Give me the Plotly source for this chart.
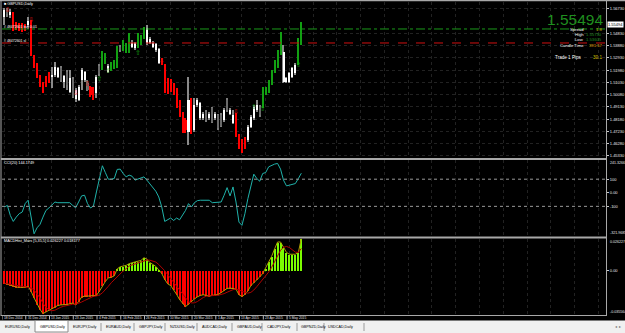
import plotly.graph_objects as go

# ---------------- DATA ----------------
date_labels = ["18 Dec 2014", "31 Dec 2014", "13 Jan 2015", "23 Jan 2015", "4 Feb 2015",
               "16 Feb 2015", "26 Feb 2015", "10 Mar 2015", "20 Mar 2015", "1 Apr 2015",
               "13 Apr 2015", "23 Apr 2015", "5 May 2015"]
date_label_bars = [0, 8, 16, 24, 32, 40, 48, 56, 64, 72, 80, 88, 96]

open_ = [1.5614, 1.5660, 1.5626, 1.5639, 1.5523, 1.5557, 1.5515, 1.5549, 1.5546, 1.5575,
         1.5303, 1.5230, 1.5142, 1.5075, 1.5075, 1.5142, 1.5147, 1.5160, 1.5147, 1.5212,
         1.5108, 1.5186, 1.5031, 1.5127, 1.4971, 1.4966, 1.5121, 1.5121, 1.5096, 1.5064,
         1.5049, 1.5018, 1.5230, 1.5212, 1.5264, 1.5186, 1.5199, 1.5212, 1.5225, 1.5380,
         1.5355, 1.5342, 1.5393, 1.5380, 1.5367, 1.5380, 1.5406, 1.5445, 1.5523, 1.5437,
         1.5412, 1.5401, 1.5360, 1.5277, 1.5238, 1.5031, 1.5116, 1.5083, 1.5018, 1.4914,
         1.4862, 1.4811, 1.4720, 1.4966, 1.4733, 1.4927, 1.4824, 1.4824, 1.4875, 1.4824,
         1.4901, 1.4824, 1.4849, 1.4849, 1.4811, 1.4966, 1.4862, 1.4790, 1.4849, 1.4694,
         1.4655, 1.4603, 1.4655, 1.4759, 1.4824, 1.4888, 1.4914, 1.4914, 1.5018, 1.5031,
         1.5096, 1.5186, 1.5225, 1.5329, 1.5342, 1.5108, 1.5108, 1.5147, 1.5173, 1.5251,
         1.5432]
high = [1.5678, 1.5678, 1.5671, 1.5652, 1.5575, 1.5562, 1.5562, 1.5557, 1.5614, 1.5588,
        1.5316, 1.5251, 1.5160, 1.5108, 1.5153, 1.5186, 1.5225, 1.5264, 1.5225, 1.5230,
        1.5160, 1.5199, 1.5199, 1.5142, 1.5057, 1.5083, 1.5212, 1.5194, 1.5121, 1.5075,
        1.5064, 1.5160, 1.5246, 1.5349, 1.5329, 1.5246, 1.5264, 1.5277, 1.5386, 1.5393,
        1.5432, 1.5406, 1.5484, 1.5432, 1.5419, 1.5484, 1.5471, 1.5536, 1.5549, 1.5453,
        1.5427, 1.5412, 1.5367, 1.5290, 1.5246, 1.5134, 1.5127, 1.5096, 1.5057, 1.4966,
        1.4875, 1.4824, 1.5147, 1.4979, 1.4979, 1.4979, 1.4953, 1.4875, 1.4888, 1.4875,
        1.4914, 1.4875, 1.4862, 1.4868, 1.4901, 1.4979, 1.4901, 1.4888, 1.4868, 1.4707,
        1.4668, 1.4681, 1.4772, 1.4849, 1.4927, 1.4966, 1.4927, 1.5070, 1.5070, 1.5121,
        1.5199, 1.5277, 1.5355, 1.5497, 1.5393, 1.5147, 1.5186, 1.5225, 1.5251, 1.5445,
        1.5573]
low = [1.5549, 1.5614, 1.5601, 1.5505, 1.5510, 1.5505, 1.5497, 1.5502, 1.5536, 1.5308,
       1.5212, 1.5134, 1.5064, 1.5018, 1.5064, 1.5096, 1.5057, 1.5147, 1.5134, 1.5108,
       1.5057, 1.5044, 1.5023, 1.4979, 1.4953, 1.4958, 1.5044, 1.5108, 1.5039, 1.4992,
       1.4966, 1.4979, 1.5153, 1.5199, 1.5246, 1.5178, 1.5189, 1.5204, 1.5217, 1.5342,
       1.5347, 1.5334, 1.5329, 1.5373, 1.5355, 1.5367, 1.5393, 1.5437, 1.5393, 1.5401,
       1.5367, 1.5342, 1.5246, 1.5235, 1.5018, 1.5013, 1.5031, 1.5005, 1.4901, 1.4837,
       1.4712, 1.4712, 1.4616, 1.4707, 1.4720, 1.4914, 1.4811, 1.4811, 1.4798, 1.4811,
       1.4785, 1.4811, 1.4733, 1.4754, 1.4798, 1.4875, 1.4849, 1.4780, 1.4681, 1.4583,
       1.4552, 1.4590, 1.4642, 1.4746, 1.4811, 1.4875, 1.4837, 1.4901, 1.5005, 1.5018,
       1.5083, 1.5173, 1.5212, 1.5316, 1.5096, 1.5096, 1.5096, 1.5134, 1.5160, 1.5238,
       1.5393]
close = [1.5665, 1.5634, 1.5652, 1.5515, 1.5557, 1.5515, 1.5549, 1.5510, 1.5582, 1.5316,
         1.5230, 1.5147, 1.5075, 1.5031, 1.5142, 1.5173, 1.5160, 1.5225, 1.5212, 1.5121,
         1.5153, 1.5083, 1.5134, 1.4992, 1.5044, 1.5064, 1.5199, 1.5186, 1.5044, 1.5005,
         1.4979, 1.5147, 1.5168, 1.5329, 1.5316, 1.5230, 1.5251, 1.5264, 1.5375, 1.5355,
         1.5419, 1.5393, 1.5437, 1.5412, 1.5406, 1.5471, 1.5453, 1.5523, 1.5406, 1.5412,
         1.5380, 1.5355, 1.5251, 1.5246, 1.5031, 1.5121, 1.5044, 1.5018, 1.4909, 1.4849,
         1.4720, 1.4738, 1.4966, 1.4733, 1.4927, 1.4966, 1.4940, 1.4862, 1.4811, 1.4862,
         1.4798, 1.4862, 1.4746, 1.4764, 1.4888, 1.4888, 1.4888, 1.4849, 1.4694, 1.4603,
         1.4590, 1.4668, 1.4759, 1.4837, 1.4914, 1.4927, 1.4849, 1.5031, 1.5057, 1.5108,
         1.5186, 1.5264, 1.5329, 1.5432, 1.5108, 1.5134, 1.5173, 1.5212, 1.5238, 1.5432,
         1.55494]
# candle state: r = down trend, g = up trend, w = neutral (light), k = neutral (dark)
candle_state = ["w", "k", "w", "r", "r", "r", "r", "r", "w", "r",
                "r", "r", "r", "r", "r", "r", "w", "w", "w", "k",
                "w", "k", "w", "k", "w", "w", "w", "w", "k", "r",
                "r", "w", "k", "g", "g", "w", "g", "g", "g", "k",
                "g", "g", "g", "w", "w", "g", "g", "g", "w", "w",
                "w", "w", "w", "r", "r", "r", "r", "r", "r", "r",
                "r", "r", "w", "r", "w", "w", "w", "w", "k", "w",
                "k", "w", "k", "k", "w", "k", "w", "w", "r", "r",
                "r", "r", "w", "w", "w", "w", "k", "g", "g", "g",
                "g", "g", "g", "g", "w", "w", "w", "w", "w", "g",
                "g"]

sell_arrow_bars = [1, 9, 24, 28, 53, 78]
sell_arrow_prices = [1.5660, 1.5582, 1.5020, 1.5088, 1.5264, 1.4870]
buy_arrow_bars = [32, 35, 45, 84, 87, 99]
buy_arrow_prices = [1.5129, 1.5191, 1.5326, 1.4909, 1.4899, 1.5233]

order_open_price = 1.55178
order_sl_price = 1.54092
last_price = 1.55494

# (the 1.55780 level is covered by the current-price marker, so it is not labelled)
price_ticks = [1.5673, 1.5483, 1.5388, 1.5293, 1.5198, 1.5103, 1.5008,
               1.4913, 1.4818, 1.4723, 1.4628, 1.4533]
price_tick_labels = ["1.56730", "1.54830", "1.53880", "1.52930", "1.51980",
                     "1.51030", "1.50080", "1.49130", "1.48180", "1.47230", "1.46280", "1.45330"]

cci = [-105, -93, -167, -211, -179, -154, -142, -80, -55, -191,
       -302, -258, -233, -179, -130, -112, -88, -68, -73, -73,
       -70, -68, -73, -93, -110, -68, -23, -18, -80, -112,
       -97, 6, 105, 199, 149, 100, 100, 105, 172, 174,
       142, 117, 130, 122, 93, 100, 105, 117, 93, 68,
       43, 11, -31, -105, -211, -196, -186, -204, -186, -199,
       -162, -130, -80, -105, -73, -58, -55, -55, -55, -55,
       -73, -73, -73, -68, -18, 38, -23, 43, -68, -216,
       -240, -154, -43, 56, 137, 105, 85, 142, 149, 191,
       204, 211, 216, 174, 93, 51, 56, 65, 68, 105,
       144.1749]
cci_max = 241.3266
cci_min = -321.9685
cci_mid_ticks = [100, 0, -100]
cci_mid_labels = ["100", "0.00", "-100"]

macd_hist = [-0.0099, -0.0107, -0.0118, -0.0124, -0.0130, -0.0132, -0.0132, -0.0132, -0.0124, -0.0164,
             -0.0217, -0.0268, -0.0310, -0.0344, -0.0330, -0.0316, -0.0305, -0.0291, -0.0279, -0.0274,
             -0.0274, -0.0271, -0.0265, -0.0259, -0.0274, -0.0248, -0.0211, -0.0203, -0.0203, -0.0203,
             -0.0203, -0.0197, -0.0164, -0.0118, -0.0085, -0.0056, -0.0051, -0.0039, 0.0017, 0.0034,
             0.0039, 0.0045, 0.0059, 0.0068, 0.0073, 0.0079, 0.0085, 0.0107, 0.0096, 0.0068,
             0.0051, 0.0037, 0.0008, -0.0020, -0.0068, -0.0104, -0.0118, -0.0152, -0.0189, -0.0231,
             -0.0259, -0.0288, -0.0268, -0.0245, -0.0226, -0.0209, -0.0197, -0.0192, -0.0197, -0.0203,
             -0.0197, -0.0195, -0.0189, -0.0175, -0.0161, -0.0141, -0.0138, -0.0141, -0.0147, -0.0192,
             -0.0206, -0.0189, -0.0161, -0.0118, -0.0096, -0.0071, -0.0048, -0.0020, 0.0023, 0.0073,
             0.0118, 0.0178, 0.0234, 0.0234, 0.0192, 0.0150, 0.0135, 0.0135, 0.0135, 0.0150,
             0.026227]
macd_signal = [-0.0099, -0.0103, -0.0108, -0.0112, -0.0116, -0.0122, -0.0127, -0.0130, -0.0130, -0.0137,
               -0.0154, -0.0181, -0.0217, -0.0261, -0.0294, -0.0314, -0.0321, -0.0317, -0.0304, -0.0293,
               -0.0285, -0.0278, -0.0273, -0.0269, -0.0269, -0.0263, -0.0251, -0.0239, -0.0228, -0.0214,
               -0.0205, -0.0202, -0.0194, -0.0177, -0.0153, -0.0124, -0.0095, -0.0070, -0.0043, -0.0019,
               0.0000, 0.0019, 0.0039, 0.0049, 0.0057, 0.0065, 0.0073, 0.0082, 0.0088, 0.0087,
               0.0081, 0.0072, 0.0052, 0.0029, 0.0002, -0.0029, -0.0060, -0.0092, -0.0126, -0.0159,
               -0.0190, -0.0224, -0.0247, -0.0258, -0.0257, -0.0247, -0.0229, -0.0214, -0.0204, -0.0200,
               -0.0197, -0.0197, -0.0196, -0.0192, -0.0183, -0.0172, -0.0161, -0.0151, -0.0146, -0.0152,
               -0.0165, -0.0175, -0.0179, -0.0173, -0.0154, -0.0127, -0.0099, -0.0071, -0.0042, -0.0009,
               0.0029, 0.0074, 0.0125, 0.0167, 0.0191, 0.0198, 0.0189, 0.0169, 0.0152, 0.0150,
               0.018177]
macd_max = 0.026227
macd_min = -0.035564
macd_mid_ticks = [0.0]
macd_mid_labels = ["0.00"]

tabs = ["EURUSD,Daily", "GBPUSD,Daily", "EURJPY,Daily", "EURAUD,Daily", "GBPJPY,Daily",
        "NZDUSD,Daily", "AUDCAD,Daily", "GBPAUD,Daily", "CADJPY,Daily", "GBPNZD,Daily", "USDCAD,Daily"]

# ---------------- STYLE / LAYOUT ----------------
W, H = 625, 333
FONT = "Liberation Sans"
SMALL = 3.8
N = len(close)
bars = list(range(N))


def px(x):
    return x / W


def py(y):
    return 1 - y / H


X0, X1 = px(2), px(606)
main_dom = [py(158), py(2)]
cci_dom = [py(236.5), py(160)]
macd_dom = [py(315), py(238.5)]
xrange_ = [-0.8, 202.6]

state_color = {"r": "#ff0000", "g": "#12a012", "w": "#ffffff", "k": "#6a6a6a"}
wick_color = {"r": "#ff0000", "g": "#12a012", "w": "#8a8a8a", "k": "#7a7a7a"}

fig = go.Figure()

# wicks
fig.add_trace(go.Bar(
    x=bars, y=[h - l for h, l in zip(high, low)], base=low, width=0.36,
    marker=dict(color=[wick_color[s] for s in candle_state], line=dict(width=0)),
    xaxis="x", yaxis="y", hoverinfo="skip", showlegend=False))
# bodies
fig.add_trace(go.Bar(
    x=bars, y=[max(abs(c - o), 0.0005) for o, c in zip(open_, close)],
    base=[min(o, c) for o, c in zip(open_, close)], width=0.68,
    marker=dict(color=[state_color[s] for s in candle_state], line=dict(width=0)),
    xaxis="x", yaxis="y", hoverinfo="skip", showlegend=False))

# signal arrows
fig.add_trace(go.Scatter(
    x=sell_arrow_bars, y=sell_arrow_prices, mode="text", text=["\u21e9"] * len(sell_arrow_bars),
    textfont=dict(family="DejaVu Sans", size=7, color="#e01010"),
    xaxis="x", yaxis="y", hoverinfo="skip", showlegend=False))
fig.add_trace(go.Scatter(
    x=buy_arrow_bars, y=buy_arrow_prices, mode="text", text=["\u21e7"] * len(buy_arrow_bars),
    textfont=dict(family="DejaVu Sans", size=7, color="#12a012"),
    xaxis="x", yaxis="y", hoverinfo="skip", showlegend=False))

# CCI
fig.add_trace(go.Scatter(
    x=bars, y=cci, mode="lines", line=dict(color="#20b2aa", width=1),
    xaxis="x2", yaxis="y2", hoverinfo="skip", showlegend=False))

# MACD histogram + lines
fig.add_trace(go.Bar(
    x=bars, y=macd_hist, width=0.36,
    marker=dict(color=["#7cfc00" if v > 0 else "#ff0000" for v in macd_hist], line=dict(width=0)),
    xaxis="x3", yaxis="y3", hoverinfo="skip", showlegend=False))
fig.add_trace(go.Scatter(
    x=bars, y=macd_hist, mode="lines", line=dict(color="#b0a000", width=1),
    xaxis="x3", yaxis="y3", hoverinfo="skip", showlegend=False))
fig.add_trace(go.Scatter(
    x=bars, y=macd_signal, mode="lines", line=dict(color="#b00000", width=1),
    xaxis="x3", yaxis="y3", hoverinfo="skip", showlegend=False))

grid_bars = list(range(0, 203, 8))
xcommon = dict(range=xrange_, showticklabels=False, ticks="", showgrid=True,
               gridcolor="#222222", griddash="dot", gridwidth=1, zeroline=False,
               tickvals=grid_bars, fixedrange=True, showline=False)
ycommon = dict(side="right", zeroline=False, ticks="outside", ticklen=2,
               tickcolor="#c8c8c8", tickfont=dict(family=FONT, size=4, color="#e8e8e8"),
               showline=False, fixedrange=True)

fig.update_layout(
    width=W, height=H, margin=dict(l=0, r=0, t=0, b=0),
    paper_bgcolor="#000000", plot_bgcolor="#000000",
    barmode="overlay", bargap=0, showlegend=False,
    font=dict(family=FONT, color="#ffffff"),
    xaxis=dict(domain=[X0, X1], anchor="y", **xcommon),
    xaxis2=dict(domain=[X0, X1], anchor="y2", matches="x", **xcommon),
    xaxis3=dict(domain=[X0, X1], anchor="y3", matches="x", **xcommon),
    yaxis=dict(domain=main_dom, anchor="x", range=[1.4517, 1.5727],
               tickvals=price_ticks, ticktext=price_tick_labels,
               showgrid=True, gridcolor="#222222", griddash="dot", **ycommon),
    yaxis2=dict(domain=cci_dom, anchor="x2", range=[cci_min, cci_max], showgrid=False,
                tickvals=cci_mid_ticks, ticktext=cci_mid_labels, **ycommon),
    yaxis3=dict(domain=macd_dom, anchor="x3", range=[macd_min, macd_max], showgrid=False,
                tickvals=macd_mid_ticks, ticktext=macd_mid_labels, **ycommon),
)

shapes = []
# order lines
shapes.append(dict(type="line", xref="paper", yref="y", x0=X0, x1=X1,
                   y0=order_open_price, y1=order_open_price,
                   line=dict(color="#1a9a1a", width=1, dash="dashdot")))
shapes.append(dict(type="line", xref="paper", yref="y", x0=X0, x1=X1,
                   y0=order_sl_price, y1=order_sl_price,
                   line=dict(color="#d01010", width=1, dash="dash")))
# CCI levels
for lvl in (100, -100):
    shapes.append(dict(type="line", xref="paper", yref="y2", x0=X0, x1=X1, y0=lvl, y1=lvl,
                       line=dict(color="#9a9a9a", width=1, dash="dot")))
# window frame / separators
sep = "#a8a8a8"
shapes.append(dict(type="rect", xref="paper", yref="paper", x0=0, x1=1, y0=py(1.2), y1=1,
                   fillcolor=sep, line=dict(width=0)))
for (a, b) in [(158, 160), (236.5, 238.5), (315, 316)]:
    shapes.append(dict(type="rect", xref="paper", yref="paper", x0=px(1), x1=px(607),
                       y0=py(b), y1=py(a), fillcolor=sep, line=dict(width=0)))
shapes.append(dict(type="rect", xref="paper", yref="paper", x0=px(606), x1=px(607),
                   y0=py(316), y1=py(1), fillcolor=sep, line=dict(width=0)))
shapes.append(dict(type="rect", xref="paper", yref="paper", x0=px(0.5), x1=px(1.5),
                   y0=py(316), y1=py(1), fillcolor=sep, line=dict(width=0)))
# tab bar
shapes.append(dict(type="rect", xref="paper", yref="paper", x0=0, x1=1, y0=0, y1=py(320.5),
                   fillcolor="#f0f0f0", line=dict(width=0)))
tab_left = [4, 39, 72, 105, 138, 169, 201, 236, 266, 300, 327]
tab_sep = [35, 68, 101, 134, 165, 197, 232, 262, 297, 324, 364]
shapes.append(dict(type="rect", xref="paper", yref="paper", x0=px(35), x1=px(68),
                   y0=py(332), y1=py(320.5), fillcolor="#ffffff",
                   line=dict(color="#8a8a8a", width=1)))
for s in tab_sep:
    if s in (35, 68):
        continue
    shapes.append(dict(type="line", xref="paper", yref="paper", x0=px(s), x1=px(s),
                       y0=py(331), y1=py(323), line=dict(color="#9a9a9a", width=1)))

ann = []


def text(x, y, s, size=SMALL, color="#ffffff", xanchor="left", yanchor="middle",
         xref="paper", yref="paper", bg=None, family=FONT):
    d = dict(x=x, y=y, xref=xref, yref=yref, text=s, showarrow=False, xanchor=xanchor,
             yanchor=yanchor, borderpad=0, font=dict(family=family, size=size, color=color))
    if bg:
        d["bgcolor"] = bg
    ann.append(d)


# titles
text(px(2.5), py(4.2), "\u25a0 GBPUSD,Daily")
text(px(3), py(162.5), "CCI(20) 144.1749")
text(px(3), py(241), "MACDHist_Mars [5,35,5] 0.026227 0.018177")
# order labels
text(px(3), py(27.2), "# 48472601 buy 0.01", size=3.5)
text(px(3), py(41.2), "# 48472601 sl", size=3.5)
# edge labels of indicator windows (inside the window, MT4-style)
text(px(608.5), py(160.3), "241.3266", size=3.6, color="#e8e8e8", yanchor="top")
text(px(608.5), py(236.3), "-321.9685", size=3.6, color="#e8e8e8", yanchor="bottom")
text(px(608.5), py(238.8), "0.026227", size=3.6, color="#e8e8e8", yanchor="top")
text(px(608.5), py(314.8), "-0.035564", size=3.6, color="#e8e8e8", yanchor="bottom")
# current price marker on axis
text(px(607), last_price, "1.55494", size=4, color="#000000", yref="y", bg="#ffffff")

# info panel
text(px(604), py(19.5), "1.55494", size=15.5, color="#1f8f1f", xanchor="right")
rows = [(29, "Spread", "1.8", "#c8b400"), (34.5, "High", "1.55730", "#1f8f1f"),
        (40, "Low", "1.53605", "#1f8f1f"), (45.5, "Candle Time", "391:57", "#e0a800")]
for yy, lab, val, col in rows:
    text(px(585), py(yy), lab, size=4.2, xanchor="right")
    text(px(603), py(yy), val, size=4.2, color=col, xanchor="right")
text(px(583), py(57), "Trade 1 Pips", size=4.6, xanchor="right")
text(px(603), py(57), "30.1", size=4.6, color="#d8c000", xanchor="right")

# date labels
for b, lab in zip(date_label_bars, date_labels):
    ann.append(dict(x=b - 0.5, y=py(318.3), xref="x3", yref="paper", text=lab, showarrow=False,
                    xanchor="left", yanchor="middle", borderpad=0,
                    font=dict(family=FONT, size=3.3, color="#e0e0e0")))
    shapes.append(dict(type="line", xref="x3", yref="paper", x0=b - 0.8, x1=b - 0.8,
                       y0=py(319.5), y1=py(316), line=dict(color="#bbbbbb", width=1)))

# tabs
for xl, lab in zip(tab_left, tabs):
    text(px(xl), py(326.5), lab, size=3.7, color="#000000")
text(px(614), py(326.5), "\u25c2  \u25b8", size=3.7, color="#707070")

fig.update_layout(annotations=ann, shapes=shapes)
fig.write_html("out.html", config={"displayModeBar": False})
